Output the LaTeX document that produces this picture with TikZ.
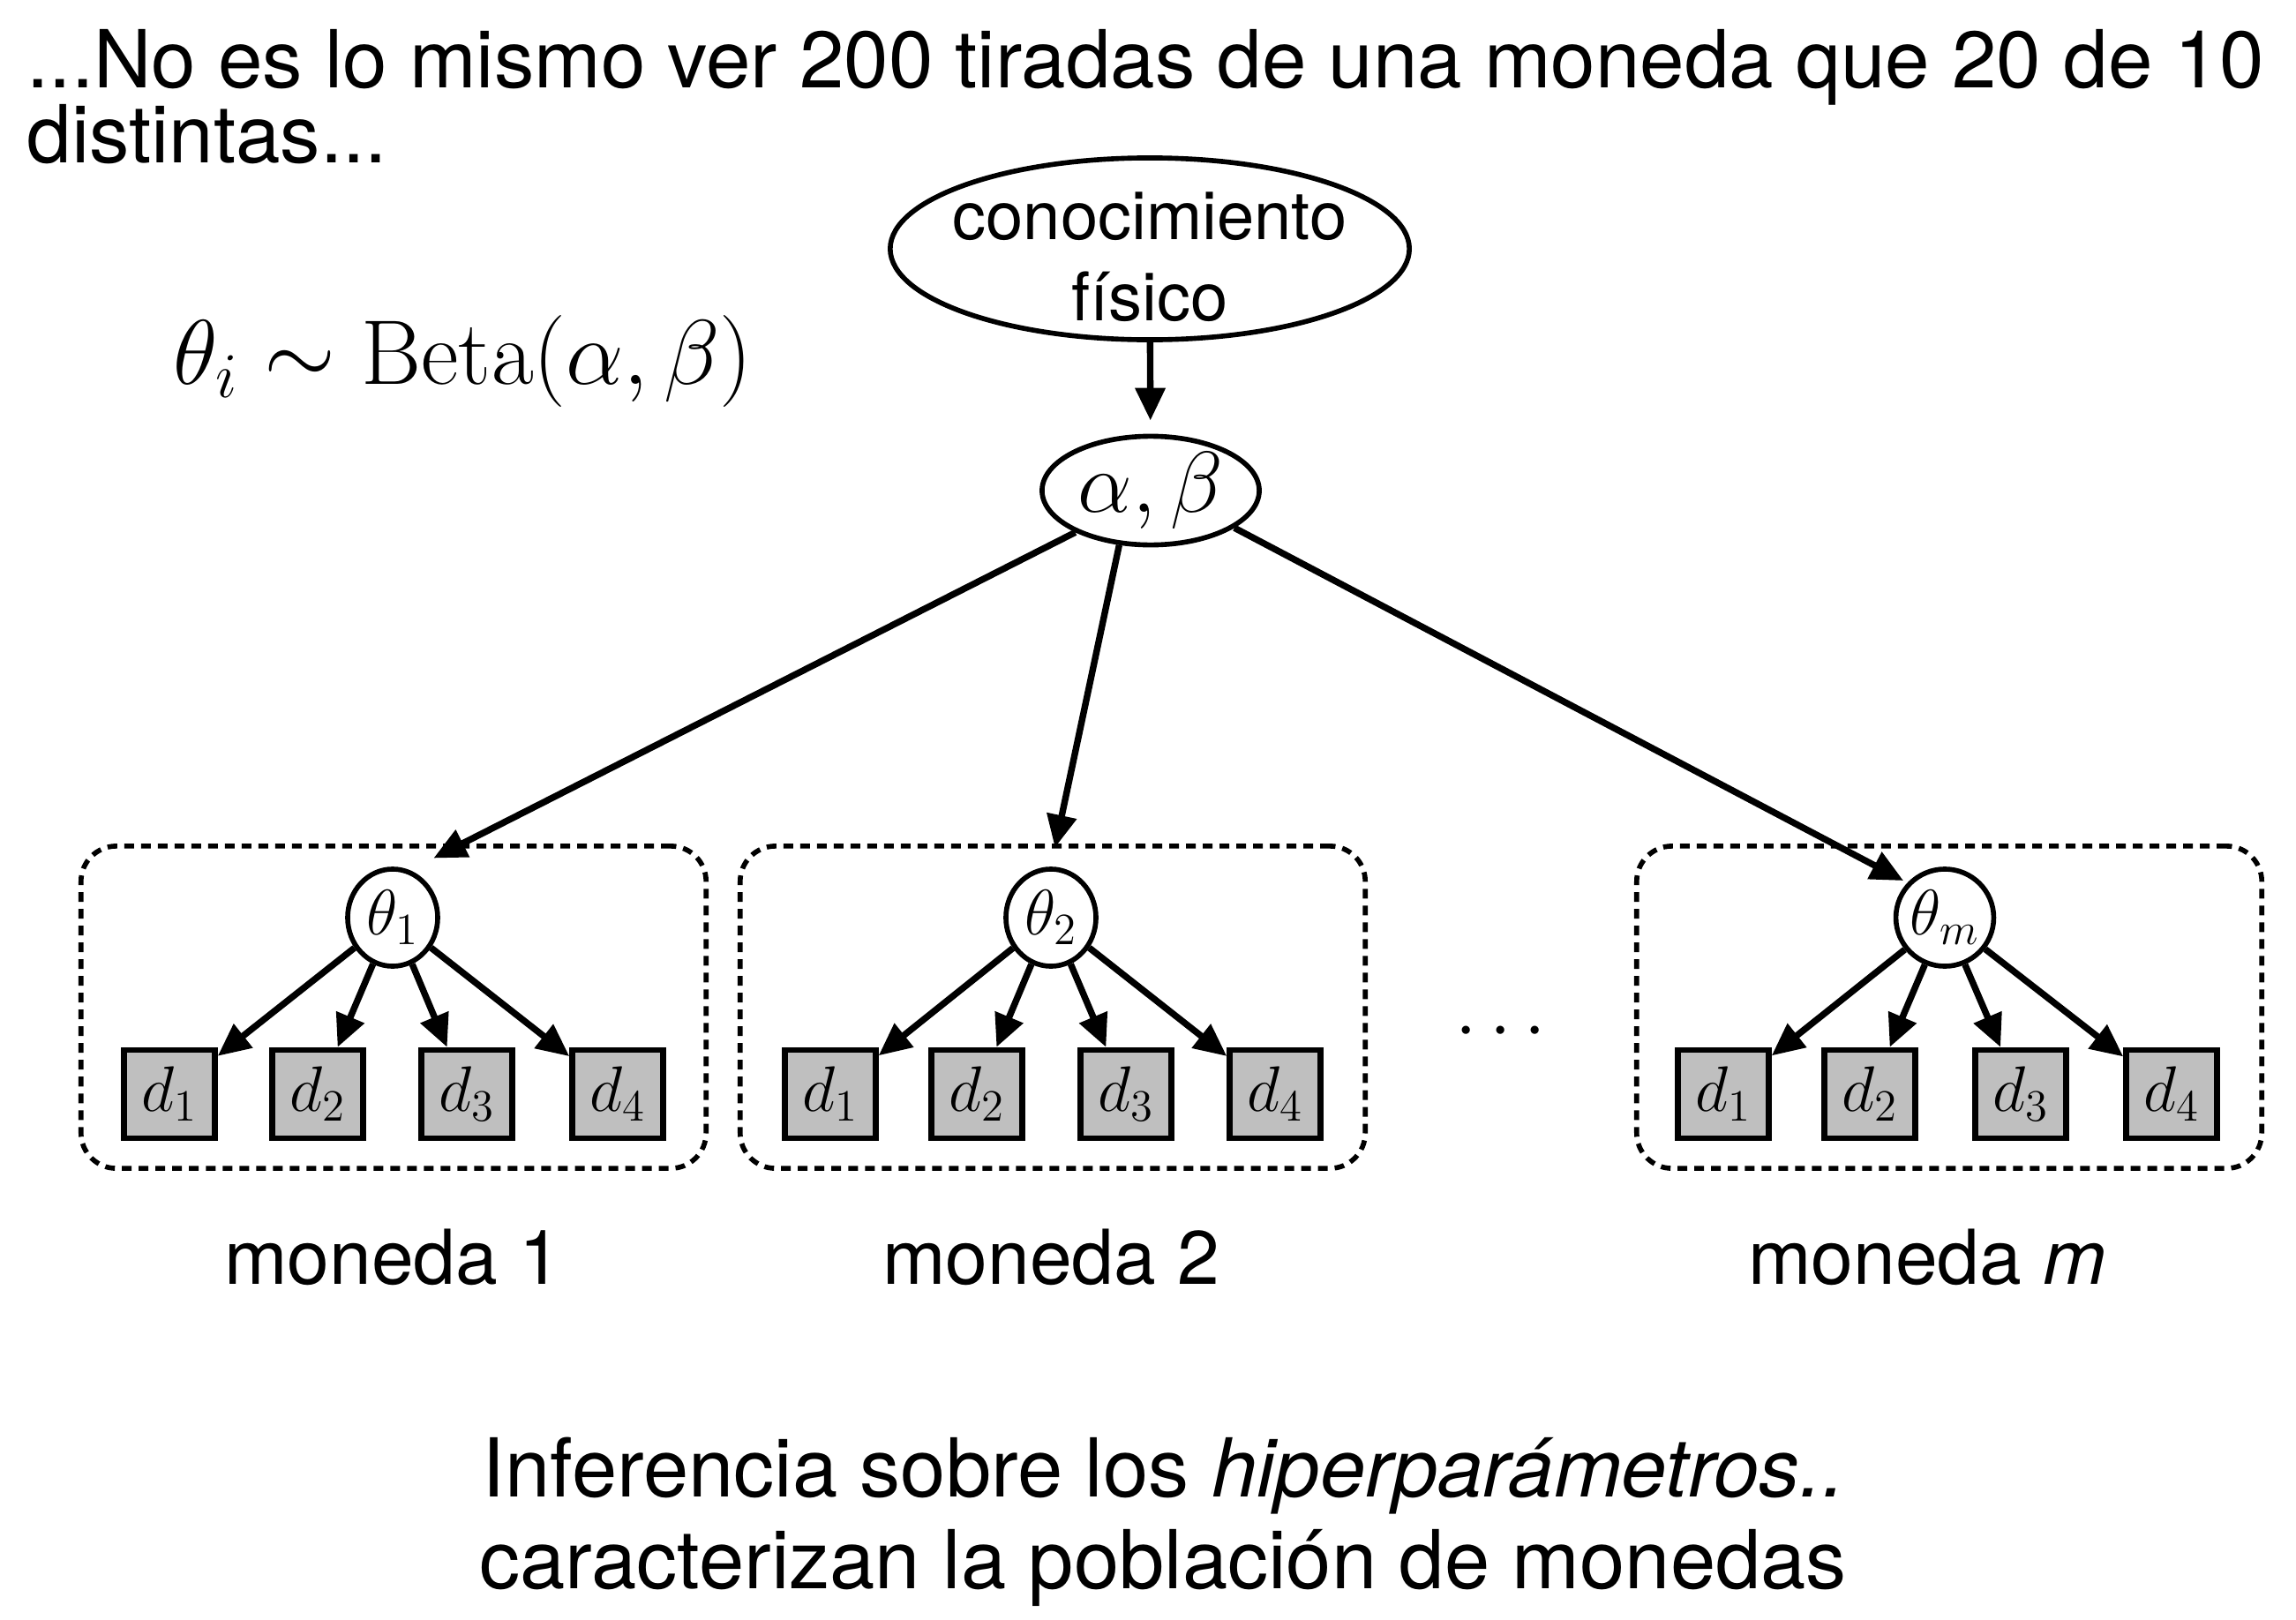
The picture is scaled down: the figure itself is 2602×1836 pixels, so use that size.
\documentclass[tikz,border=0pt]{standalone}
\usepackage[no-math]{fontspec}
\usepackage{graphicx}
\setmainfont{TeX Gyre Heros}
\usetikzlibrary{arrows.meta,shapes.geometric}
\begin{document}
\begin{tikzpicture}[x=0.01cm,y=-0.01cm,
  arr/.style={-{Triangle[length=0.37cm,width=0.33cm]}, line width=2.1pt},
  ell/.style={draw, ellipse, line width=1.6pt, inner sep=0pt},
  theta/.style={ell, minimum width=1.02cm, minimum height=1.1cm, font=\fontsize{20}{24}\selectfont},
  dbox/.style={draw, fill=black!25, line width=1.8pt, minimum width=1.03cm, minimum height=1.0cm, inner sep=0pt, font=\fontsize{19.5}{23}\selectfont},
  plate/.style={draw, dash pattern=on 0.11cm off 0.08cm, line width=1.6pt, rounded corners=0.4cm, minimum width=7.08cm, minimum height=3.65cm},
  lbl/.style={font=\fontsize{24.4}{29}\selectfont, anchor=base, inner sep=0pt},
  txt/.style={anchor=base west, inner sep=0pt},
]
\useasboundingbox (0,0) rectangle (2602,1836);

% title
\node[txt, font=\fontsize{25.8}{30}\selectfont] (ttl1) at (30,100) {...No es lo mismo ver 200 tiradas de una moneda que 20 de 10};
\node[txt, font=\fontsize{25.8}{30}\selectfont] (ttl2) at (30,184) {distintas...};

% plates
\node[plate] (p1) at (446,1141.5) {};
\node[plate] (p2) at (1193,1141.5) {};
\node[plate] (pm) at (2209,1141.5) {};

% top nodes
\node[ell, minimum width=5.88cm, minimum height=2.06cm] (kn) at (1303,282) {};
\node[align=center, inner sep=0pt, font=\fontsize{21.6}{26}\selectfont] (kntxt) at (1303,291) {conocimiento\\físico};
\node[ell, minimum width=2.46cm, minimum height=1.22cm, font=\fontsize{28}{33}\selectfont] (ab) at (1304,556) {\scalebox{1.12}{$\alpha,\beta$}};
\node[txt, font=\fontsize{25}{30}\selectfont] (beta) at (196,435) {\scalebox{1.19}{$\theta_i \sim \mathrm{Beta}(\alpha,\beta)$}};

% theta nodes
\node[theta] (th1) at (445,1040) {$\theta_1$};
\node[theta] (th2) at (1191,1040) {$\theta_2$};
\node[theta] (thm) at (2204,1040) {$\theta_m$};

% data nodes and arrows
\foreach \p/\xa/\xb/\xc/\xd in {1/192/360/529/700, 2/941/1107/1276/1445, m/1953/2119/2290/2461}{
  \node[dbox] (d\p-1) at (\xa,1240) {$d_1$};
  \node[dbox] (d\p-2) at (\xb,1240) {$d_2$};
  \node[dbox] (d\p-3) at (\xc,1240) {$d_3$};
  \node[dbox] (d\p-4) at (\xd,1240) {$d_4$};
  \foreach \k in {1,...,4} \draw[arr] (th\p) -- (d\p-\k);
}

% top arrows
\draw[arr, shorten >=0.15cm] (kn) -- (ab);
\draw[arr, shorten >=0.3cm] (ab.209) -- (th1.70);
\draw[arr, shorten >=0.22cm] (ab.240) -- (th2.north);
\draw[arr, shorten >=0.05cm] (ab.336) -- (thm.137);

\node[font=\fontsize{25}{30}\selectfont] (dots) at (1701,1170) {$\cdots$};

% labels
\node[lbl] (m1) at (445,1455) {moneda 1};
\node[lbl] (m2) at (1191,1455) {moneda 2};
\node[lbl] (mm) at (2184,1455) {moneda \textit{m}};

% bottom text
\node[anchor=base, inner sep=0pt, font=\fontsize{26.2}{31}\selectfont] (inf) at (1319,1696) {Inferencia sobre los \textit{hiperparámetros..}};
\node[anchor=base, inner sep=0pt, font=\fontsize{26.2}{31}\selectfont] (car) at (1318,1800) {caracterizan la población de monedas};
\end{tikzpicture}
\end{document}
